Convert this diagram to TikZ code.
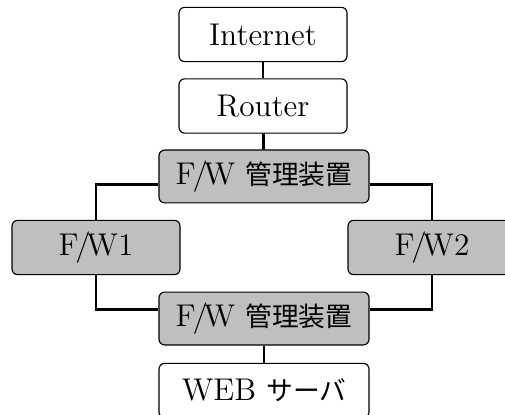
\documentclass[tikz,border=0pt]{standalone}
\usepackage{fontspec}
\newfontfamily\jpfont{Noto Sans CJK JP}[Scale=0.85]
\usepackage{tikz}
\usetikzlibrary{positioning}
\newcommand{\fwname}{F\kern-0.1em/\kern-0.14em W}

\begin{document}
\begin{tikzpicture}[
        x=0.35pt, y=0.35pt,
        font=\fontsize{11}{13}\selectfont,
        device/.style={rectangle, rounded corners=2pt, draw, line width=0.4pt, fill=white, minimum width=58.8pt, minimum height=19pt, inner sep=0pt},
        manager/.style={device, fill=gray!50, minimum width=73.5pt, minimum height=18.5pt},
        firewall/.style={device, fill=gray!50},
        server/.style={device, minimum width=73.5pt},
        link/.style={line width=1pt}
    ]
        \useasboundingbox (0,0) rectangle (505,414);

        % Upstream
        \node[device] (internet) at (263,379.5) {Internet};
        \node[device] (router) at (263,308) {Router};

        % Management units
        \node[manager] (mgr1) at (264,237.5) {\fwname\ {\jpfont 管理装置}};
        \node[manager] (mgr2) at (264,95.5) {\fwname\ {\jpfont 管理装置}};

        % Firewalls
        \node[firewall] (fw1) at (96,166.5) {\fwname 1};
        \node[firewall] (fw2) at (432,166.5) {\fwname 2};

        % Server
        \node[server] (web) at (264,23.5) {WEB {\jpfont サーバ}};

        % Connections
        \draw[link] (internet) -- (router);
        \draw[link] (router) -- (mgr1);
        \draw[link] ([yshift=-2.8pt]mgr1.west) -| (fw1.north);
        \draw[link] ([yshift=-2.8pt]mgr1.east) -| (fw2.north);
        \draw[link] (fw1.south) |- ([yshift=3.3pt]mgr2.west);
        \draw[link] (fw2.south) |- ([yshift=3.3pt]mgr2.east);
        \draw[link] (mgr2) -- (web);
    \end{tikzpicture}
\end{document}
